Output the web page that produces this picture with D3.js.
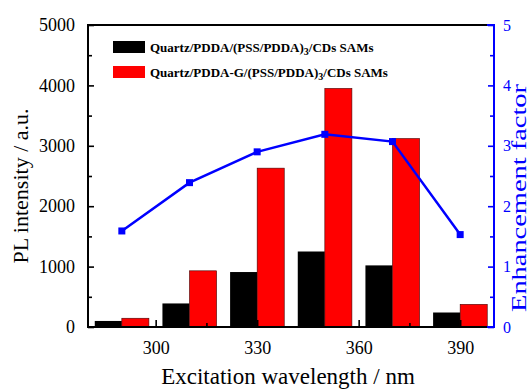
<!DOCTYPE html>
<html>
<head>
<meta charset="utf-8">
<script src="https://cdn.jsdelivr.net/npm/d3@7"></script>
<style>
  body { margin: 0; background: #fff; }
</style>
</head>
<body>
<figure id="chart" style="margin:0"></figure>
<script>
// data
const wavelengths = [290, 310, 330, 350, 370, 390];
const plQuartz = [100, 390, 910, 1250, 1020, 240];
const plGraphene = [145, 930, 2630, 3950, 3120, 375];
const enhancement = [1.59, 2.39, 2.90, 3.19, 3.07, 1.53];
const xTicks = [300, 330, 360, 390];
const xMinor = [285, 315, 345, 375];
const legendLabels = ["Quartz/PDDA/(PSS/PDDA)", "Quartz/PDDA-G/(PSS/PDDA)"];

const width = 530, height = 389;
const pLeft = 88, pRight = 494, pTop = 25, pBottom = 327;
const barW = 8; // nm
const serif = "'Liberation Serif', 'DejaVu Serif', serif";

const svg = d3.select("#chart").append("svg")
  .attr("width", width)
  .attr("height", height)
  .style("font-family", serif);

const x = d3.scaleLinear().domain([280, 400]).range([pLeft, pRight]);
const y = d3.scaleLinear().domain([0, 5000]).range([pBottom, pTop]);
const y2 = d3.scaleLinear().domain([0, 5]).range([pBottom, pTop]);

// bars
svg.selectAll("rect.q")
  .data(wavelengths)
  .enter().append("rect")
  .attr("x", d => x(d - barW))
  .attr("width", (d) => x(d) - x(d - barW))
  .attr("y", (d, i) => y(plQuartz[i]))
  .attr("height", (d, i) => y(0) - y(plQuartz[i]))
  .attr("fill", "#000");

svg.selectAll("rect.g")
  .data(wavelengths)
  .enter().append("rect")
  .attr("x", d => x(d))
  .attr("width", (d) => x(d + barW) - x(d))
  .attr("y", (d, i) => y(plGraphene[i]))
  .attr("height", (d, i) => y(0) - y(plGraphene[i]))
  .attr("fill", "#ff0000")
  .attr("stroke", "#400")
  .attr("stroke-width", 0.6);

// axes
function styleAxis(g, color) {
  g.attr("font-family", serif);
  g.select(".domain").remove();
  g.selectAll("line").attr("stroke", color).attr("stroke-width", 1.6);
  g.selectAll("text").attr("fill", color).style("font-family", serif);
}

const gx = svg.append("g").attr("transform", `translate(0,${pBottom})`)
  .call(d3.axisBottom(x).tickValues(xTicks).tickSizeInner(-7).tickSizeOuter(0).tickPadding(14));
styleAxis(gx, "#000");
gx.selectAll("text").style("font-size", "18px").attr("dy", "0.71em");
svg.append("g").attr("transform", `translate(0,${pBottom})`)
  .call(d3.axisBottom(x).tickValues(xMinor).tickSizeInner(-4).tickSizeOuter(0).tickFormat(""))
  .call(g => styleAxis(g, "#000"));

const gy = svg.append("g").attr("transform", `translate(${pLeft},0)`)
  .call(d3.axisLeft(y).ticks(5).tickFormat(d3.format("d")).tickSizeInner(-6).tickSizeOuter(0).tickPadding(13));
styleAxis(gy, "#000");
gy.selectAll("text").style("font-size", "18px");
svg.append("g").attr("transform", `translate(${pLeft},0)`)
  .call(d3.axisLeft(y).tickValues(d3.range(500, 5000, 1000)).tickSizeInner(-4).tickSizeOuter(0).tickFormat(""))
  .call(g => styleAxis(g, "#000"));

const gy2 = svg.append("g").attr("transform", `translate(${pRight},0)`)
  .call(d3.axisRight(y2).ticks(5).tickFormat(d3.format("d")).tickSizeInner(-6).tickSizeOuter(0).tickPadding(9));
styleAxis(gy2, "#0000ff");
gy2.selectAll("text").style("font-size", "16px");
svg.append("g").attr("transform", `translate(${pRight},0)`)
  .call(d3.axisRight(y2).tickValues(d3.range(0.5, 5, 1)).tickSizeInner(-4).tickSizeOuter(0).tickFormat(""))
  .call(g => styleAxis(g, "#0000ff"));

// frame
svg.append("line").attr("x1", pLeft).attr("x2", pRight - 7).attr("y1", pTop).attr("y2", pTop)
  .attr("stroke", "#000").attr("stroke-width", 2);
svg.append("line").attr("x1", pLeft).attr("x2", pRight - 7).attr("y1", pBottom).attr("y2", pBottom)
  .attr("stroke", "#000").attr("stroke-width", 2);
svg.append("line").attr("x1", pLeft).attr("x2", pLeft).attr("y1", pTop - 1).attr("y2", pBottom + 1)
  .attr("stroke", "#000").attr("stroke-width", 2);
svg.append("path")
  .attr("d", `M${pRight - 7},${pTop}H${pRight}V${pBottom}H${pRight - 7}`)
  .attr("fill", "none").attr("stroke", "#0000ff").attr("stroke-width", 2);

// enhancement line
const line = d3.line().x((d, i) => x(wavelengths[i])).y(d => y2(d));
svg.append("path").datum(enhancement)
  .attr("d", line)
  .attr("fill", "none")
  .attr("stroke", "#0000ff")
  .attr("stroke-width", 2.5);
svg.selectAll("rect.pt")
  .data(enhancement)
  .enter().append("rect")
  .attr("x", (d, i) => x(wavelengths[i]) - 3.5)
  .attr("y", d => y2(d) - 3.5)
  .attr("width", 7).attr("height", 7)
  .attr("fill", "#0000ff");

// axis titles
svg.append("text")
  .attr("transform", `translate(28,186) rotate(-90)`)
  .attr("text-anchor", "middle")
  .style("font-size", "22px")
  .text("PL intensity / a.u.");

svg.append("text")
  .attr("transform", `translate(526,198) rotate(-90)`)
  .attr("text-anchor", "middle")
  .attr("fill", "#0000ff")
  .style("font-size", "21px")
  .attr("textLength", 228)
  .attr("lengthAdjust", "spacingAndGlyphs")
  .text("Enhancement factor");

svg.append("text")
  .attr("x", 288).attr("y", 384)
  .attr("text-anchor", "middle")
  .style("font-size", "23px")
  .text("Excitation wavelength / nm");

// legend
const legendColors = ["#000", "#ff0000"];
const leg = svg.selectAll("g.leg")
  .data(legendLabels)
  .enter().append("g")
  .attr("transform", (d, i) => `translate(113,${41 + i * 25})`);
leg.append("rect")
  .attr("width", 32).attr("height", 12)
  .attr("fill", (d, i) => legendColors[i]);
const lt = leg.append("text")
  .attr("x", 37).attr("y", 11)
  .style("font-size", "13px")
  .style("font-weight", "bold");
lt.append("tspan").text(d => d);
lt.append("tspan").attr("dy", 3).style("font-size", "10px").text("3");
lt.append("tspan").attr("dy", -3).text("/CDs SAMs");
</script>
</body>
</html>
